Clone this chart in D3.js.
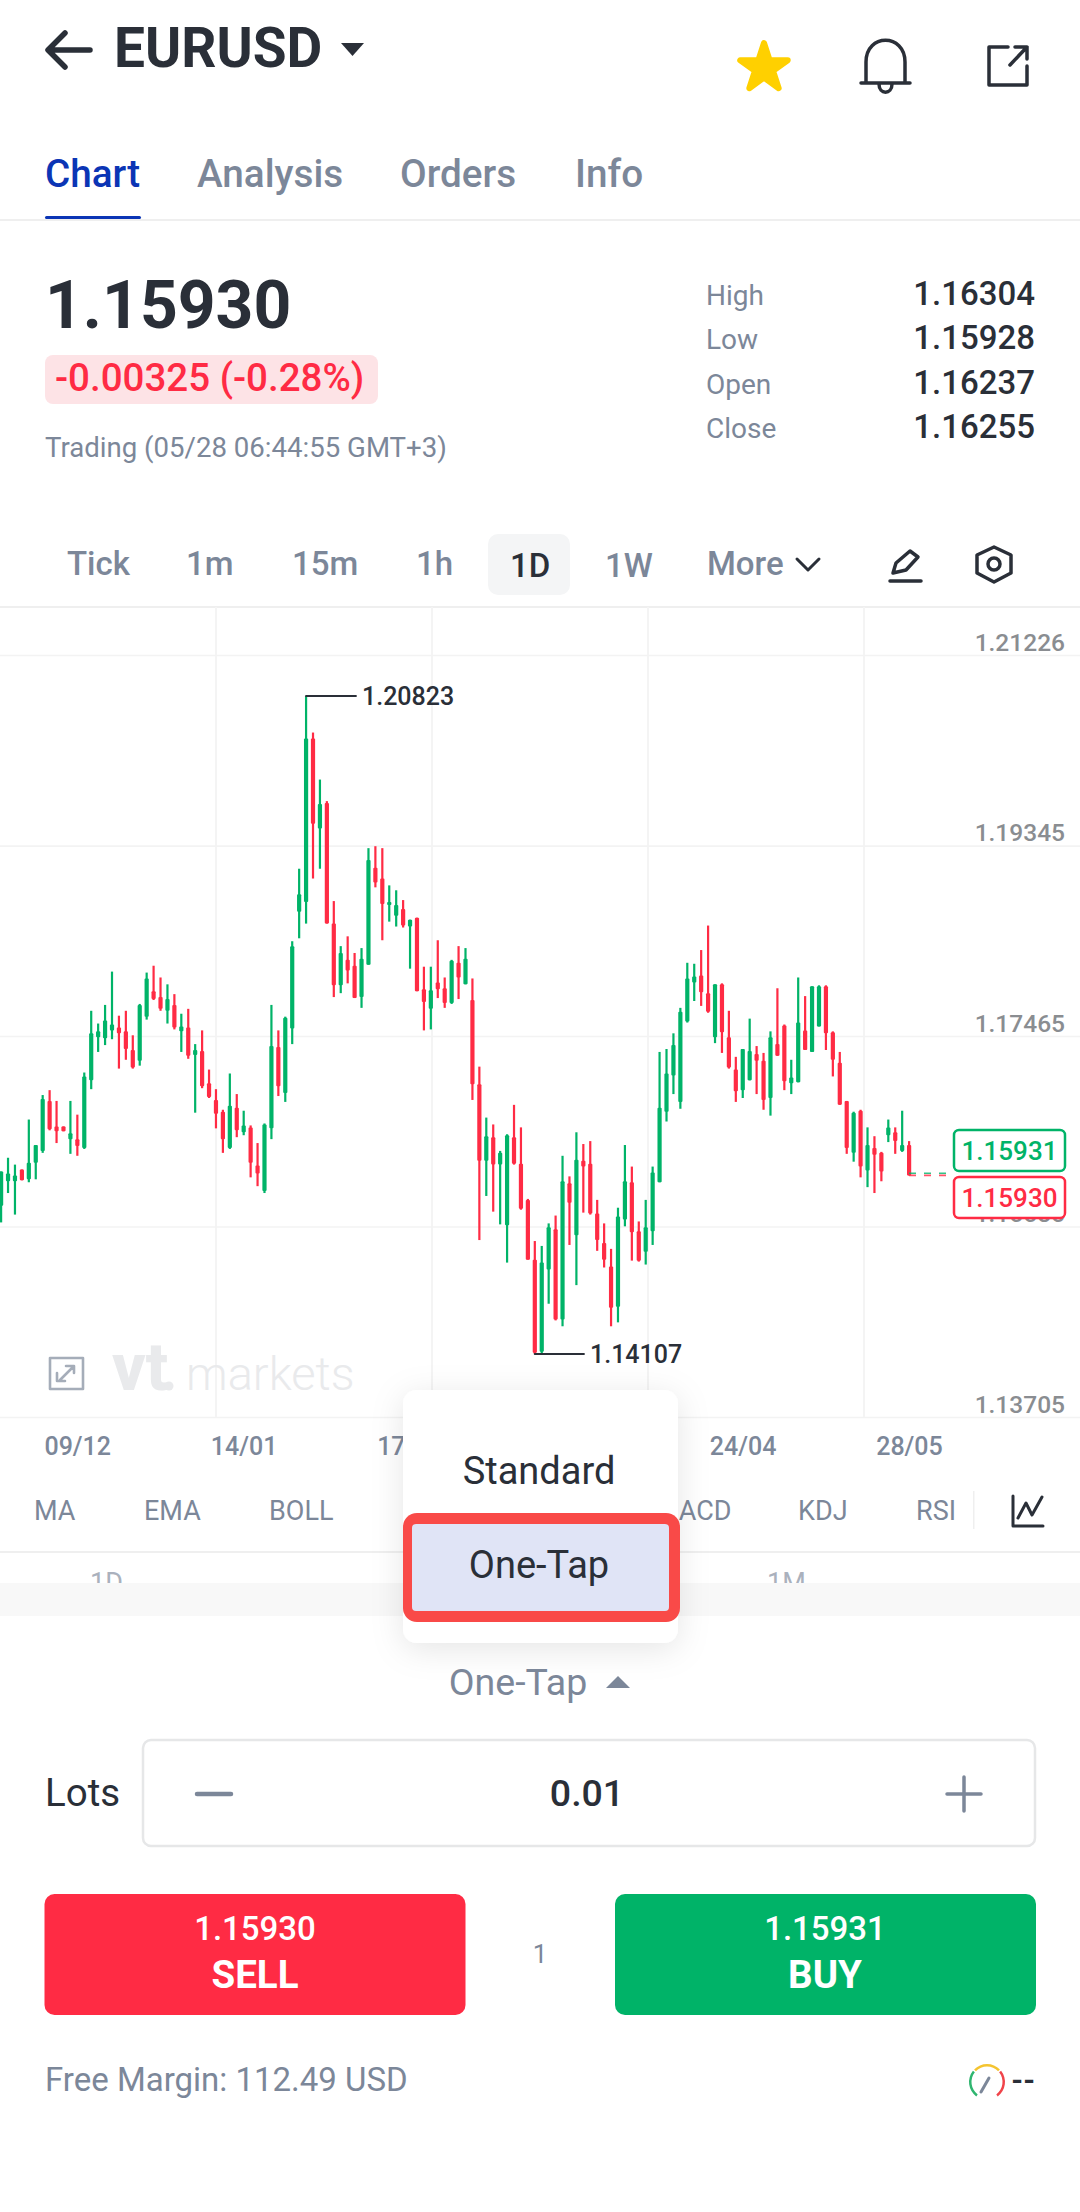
<!DOCTYPE html>
<html>
<head>
<meta charset="utf-8">
<style>
html, body { margin: 0; padding: 0; background: #fff; }
svg { display: block; }
text { font-family: Roboto, sans-serif; }
</style>
<script src="https://cdn.jsdelivr.net/npm/d3@7/dist/d3.min.js"></script>
</head>
<body>
<script>
var opens = [
  1.1562,1.1587,1.1587,1.1599,1.1589,1.1606,1.1618,1.1669,1.1643,1.1643,
  1.1630,1.1630,1.1621,1.1690,1.1734,1.1733,1.1741,1.1744,1.1740,1.1721,
  1.1710,1.1755,1.1781,1.1775,1.1761,1.1767,1.1740,1.1744,1.1716,1.1720,
  1.1687,1.1670,1.1658,1.1621,1.1662,1.1637,1.1642,1.1603,1.1577,1.1641,
  1.1724,1.1677,1.1743,1.1862,1.1872,1.2039,1.1947,1.1973,1.1850,1.1787,
  1.1813,1.1807,1.1775,1.1808,1.1907,1.1896,1.1869,1.1858,1.1865,1.1847,
  1.1856,1.1783,1.1763,1.1790,1.1784,1.1769,1.1810,1.1788,1.1772,1.1686,
  1.1608,1.1632,1.1604,1.1542,1.1632,1.1605,1.1568,1.1507,1.1413,1.1497,
  1.1538,1.1446,1.1585,1.1532,1.1608,1.1605,1.1554,1.1524,1.1500,1.1459,
  1.1548,1.1586,1.1536,1.1515,1.1536,1.1586,1.1658,1.1695,1.1668,1.1750,
  1.1790,1.1797,1.1779,1.1734,1.1788,1.1734,1.1701,1.1680,1.1690,1.1717,
  1.1710,1.1672,1.1727,1.1746,1.1687,1.1688,1.1741,1.1719,1.1745,1.1786,
  1.1739,1.1708,1.1669,1.1616,1.1659,1.1598,1.1621,1.1616,1.1634,1.1637,
  1.1618,1.1624
];
var closes = [
  1.1597,1.1595,1.1593,1.1588,1.1606,1.1624,1.1671,1.1640,1.1638,1.1638,
  1.1636,1.1623,1.1694,1.1738,1.1740,1.1751,1.1747,1.1738,1.1722,1.1703,
  1.1767,1.1794,1.1773,1.1763,1.1773,1.1744,1.1745,1.1715,1.1721,1.1684,
  1.1673,1.1656,1.1630,1.1664,1.1639,1.1644,1.1606,1.1595,1.1645,1.1725,
  1.1684,1.1754,1.1827,1.1880,1.2039,1.1952,1.1972,1.1850,1.1787,1.1820,
  1.1802,1.1774,1.1814,1.1915,1.1892,1.1870,1.1872,1.1869,1.1848,1.1854,
  1.1781,1.1770,1.1782,1.1783,1.1769,1.1812,1.1795,1.1814,1.1686,1.1608,
  1.1633,1.1604,1.1616,1.1634,1.1605,1.1559,1.1507,1.1412,1.1504,1.1540,
  1.1446,1.1587,1.1565,1.1609,1.1602,1.1554,1.1527,1.1507,1.1458,1.1551,
  1.1587,1.1535,1.1506,1.1540,1.1596,1.1662,1.1697,1.1726,1.1760,1.1794,
  1.1796,1.1780,1.1760,1.1788,1.1739,1.1703,1.1679,1.1722,1.1720,1.1710,
  1.1670,1.1734,1.1715,1.1689,1.1693,1.1749,1.1721,1.1786,1.1786,1.1738,
  1.1711,1.1665,1.1621,1.1657,1.1602,1.1624,1.1614,1.1597,1.1642,1.1628,
  1.1624,1.1593
];
var highs = [
  1.1597,1.1611,1.1604,1.1599,1.1650,1.1624,1.1675,1.1680,1.1669,1.1643,
  1.1669,1.1655,1.1698,1.1761,1.1748,1.1767,1.1801,1.1756,1.1761,1.1736,
  1.1768,1.1800,1.1807,1.1795,1.1788,1.1778,1.1758,1.1763,1.1727,1.1741,
  1.1701,1.1681,1.1660,1.1697,1.1676,1.1659,1.1644,1.1626,1.1646,1.1767,
  1.1741,1.1755,1.1832,1.1906,1.20823,1.2045,1.1997,1.1975,1.1873,1.1827,
  1.1837,1.1820,1.1825,1.1927,1.1929,1.1927,1.1889,1.1884,1.1874,1.1854,
  1.1856,1.1806,1.1806,1.1833,1.1795,1.1813,1.1827,1.1825,1.1794,1.1704,
  1.1652,1.1645,1.1618,1.1635,1.1665,1.1642,1.1569,1.1526,1.1521,1.1544,
  1.1552,1.1613,1.1592,1.1637,1.1625,1.1628,1.1568,1.1544,1.1518,1.1560,
  1.1624,1.1602,1.1546,1.1568,1.1602,1.1719,1.1722,1.1738,1.1764,1.1810,
  1.1809,1.1823,1.1848,1.1788,1.1789,1.1761,1.1714,1.1722,1.1753,1.1725,
  1.1718,1.1740,1.1784,1.1747,1.1711,1.1795,1.1776,1.1786,1.1787,1.1787,
  1.1740,1.1719,1.1669,1.1658,1.1660,1.1642,1.1633,1.1617,1.1650,1.1642,
  1.1659,1.1628
];
var lows = [
  1.1545,1.1575,1.1553,1.1588,1.1586,1.1589,1.1616,1.1639,1.1626,1.1638,
  1.1615,1.1613,1.1620,1.1681,1.1719,1.1726,1.1732,1.1702,1.1711,1.1702,
  1.1705,1.1752,1.1772,1.1761,1.1748,1.1742,1.1719,1.1712,1.1657,1.1682,
  1.1672,1.1641,1.1616,1.1620,1.1632,1.1634,1.1591,1.1582,1.1575,1.1630,
  1.1674,1.1668,1.1727,1.1835,1.1850,1.1896,1.1906,1.1850,1.1775,1.1779,
  1.1789,1.1774,1.1764,1.1808,1.1887,1.1833,1.1852,1.1847,1.1846,1.1804,
  1.1781,1.1741,1.1742,1.1774,1.1764,1.1768,1.1773,1.1788,1.1670,1.1527,
  1.1572,1.1556,1.1543,1.1504,1.1604,1.1558,1.1507,1.14107,1.1411,1.1462,
  1.1445,1.1439,1.1522,1.1481,1.1555,1.1553,1.1516,1.1499,1.1439,1.1443,
  1.1541,1.1506,1.1505,1.1502,1.1522,1.1586,1.1648,1.1676,1.1661,1.1749,
  1.1771,1.1766,1.1759,1.1728,1.1718,1.1702,1.1668,1.1672,1.1690,1.1676,
  1.1660,1.1654,1.1715,1.1680,1.1676,1.1688,1.1721,1.1719,1.1745,1.1721,
  1.1694,1.1665,1.1615,1.1607,1.1591,1.1581,1.1575,1.1587,1.1627,1.1615,
  1.1617,1.1593
];

var priceTicks = [1.21226, 1.19345, 1.17465, 1.15585, 1.13705];
var dateIndexes = [11, 35, 59, 83, 107, 131];
var dateLabels = ["09/12", "14/01", "17/02", "21/03", "24/04", "28/05"];
var gridColumns = [1, 2, 3, 4];

var bid = 1.15930, ask = 1.15931;
var highest = 1.20823, lowest = 1.14107;
var highIndex = 44, lowIndex = 77;

var tabs = ["Chart", "Analysis", "Orders", "Info"];
var statNames = ["High", "Low", "Open", "Close"];
var statValues = ["1.16304", "1.15928", "1.16237", "1.16255"];
var periods = ["Tick", "1m", "15m", "1h", "1D", "1W", "More"];
var indicators = ["MA", "EMA", "BOLL", "MACD", "KDJ", "RSI"];

var RED = "#ff2b44", GREEN = "#00b368", DARK = "#2a2f38", GRAY = "#7c8799", LINE = "#efefef", BLUE = "#0b35b5";

var svg = d3.select("body").append("svg").attr("width", 1080).attr("height", 2212);

var filter = svg.append("defs").append("filter").attr("id", "shadow")
    .attr("x", "-30%").attr("y", "-20%").attr("width", "160%").attr("height", "140%");
filter.append("feDropShadow").attr("dx", 0).attr("dy", 6).attr("stdDeviation", 16)
    .attr("flood-color", "#000").attr("flood-opacity", 0.1);

var label = function (parent, str, x, y, size, color, weight, anchor) {
    return parent.append("text").text(str)
        .attr("x", x).attr("y", y)
        .attr("font-size", size)
        .attr("fill", color)
        .attr("font-weight", weight || 400)
        .attr("text-anchor", anchor || "start");
};

var icon = function (parent, d, color, width, fill) {
    return parent.append("path").attr("d", d)
        .attr("fill", fill || "none")
        .attr("stroke", color)
        .attr("stroke-width", width)
        .attr("stroke-linecap", "round")
        .attr("stroke-linejoin", "round");
};

// header
var header = svg.append("g");
icon(header, "M50 50H90M65 33L48 50L65 67", DARK, 5.5);
label(header, "EURUSD", 114, 67, 55, DARK, 700);
header.append("path").attr("d", "M341 43H364L352.5 56Z").attr("fill", DARK);
header.append("path")
    .attr("d", d3.symbol().type(d3.symbolStar).size(700))
    .attr("transform", "translate(764,68)")
    .attr("fill", "#ffd000").attr("stroke", "#ffd000")
    .attr("stroke-width", 6).attr("stroke-linejoin", "round");
icon(header, "M866 83V62C866 33 905 33 905 62V83M861 83H910M879 84C879 95 892 95 892 84", DARK, 3.5);
icon(header, "M1008 47H989V85H1027V66M1010 65L1027 47M1015 47H1027V59", DARK, 3.5);

// tabs
var tabX = [45, 197, 400, 575];
tabs.forEach(function (t, i) {
    label(header, t, tabX[i], 187, 38.7, i === 0 ? BLUE : GRAY, 500);
});
svg.append("rect").attr("x", 0).attr("y", 219).attr("width", 1080).attr("height", 2).attr("fill", LINE);
svg.append("rect").attr("x", 45).attr("y", 216).attr("width", 96).attr("height", 3).attr("rx", 1.5).attr("fill", BLUE);

// quote block
var quote = svg.append("g");
label(quote, "1.15930", 45, 328, 66, DARK, 700);
quote.append("rect").attr("x", 45).attr("y", 355).attr("width", 333).attr("height", 49).attr("rx", 8).attr("fill", "#fde3e6");
label(quote, "-0.00325 (-0.28%)", 55, 391, 38.5, RED, 500);
label(quote, "Trading (05/28 06:44:55 GMT+3)", 45, 457, 27.6, GRAY);
statNames.forEach(function (n, i) {
    var y = 305 + i * 44.3;
    label(quote, n, 706, y, 28, GRAY);
    label(quote, statValues[i], 1035, y, 33, DARK, 500, "end");
});

// period row
var periodBar = svg.append("g");
periodBar.append("rect").attr("x", 488).attr("y", 534).attr("width", 82).attr("height", 61).attr("rx", 10).attr("fill", "#f4f5f6");
var periodX = [67, 186, 292, 416, 510, 605, 707];
periods.forEach(function (p, i) {
    label(periodBar, p, periodX[i], i === 4 || i === 5 ? 577 : 575, 33, i === 4 ? DARK : GRAY, 500);
});
icon(periodBar, "M797 559L808 570L819 559", DARK, 3);
icon(periodBar, "M893 573L896 563L910 551L918 557L906 570L893 573M890 581H921", DARK, 3.5);
icon(periodBar, "M994 547L1011 555V573L994 582L977 573V555Z", DARK, 3.5);
periodBar.append("circle").attr("cx", 994).attr("cy", 564).attr("r", 6).attr("fill", "none").attr("stroke", DARK).attr("stroke-width", 3.5);

// chart
var x = d3.scalePoint().domain(d3.range(opens.length)).range([1, 909]);
var y = d3.scaleLinear().domain([lowest, highest]).range([1354, 696]);
var gridY = d3.scaleLinear().domain([priceTicks[0], priceTicks[4]]).range([655, 1417]);
var gridX = d3.scaleLinear().domain([0, 5]).range([0, 1080]);

var chart = svg.append("g");
chart.append("rect").attr("x", 0).attr("y", 606).attr("width", 1080).attr("height", 2).attr("fill", LINE);

chart.append("g").selectAll("line").data(gridColumns).enter().append("line")
    .attr("x1", function (d) { return gridX(d); })
    .attr("x2", function (d) { return gridX(d); })
    .attr("y1", 607).attr("y2", 1417)
    .attr("stroke", "#f4f4f4").attr("stroke-width", 2);

var priceAxis = chart.append("g").attr("transform", "translate(1080,0)")
    .call(d3.axisLeft(gridY).tickValues(priceTicks).tickSize(1080).tickFormat(d3.format(".5f")));
priceAxis.select(".domain").remove();
priceAxis.selectAll("line").attr("stroke", "#f3f3f3").attr("stroke-width", 1.6);
priceAxis.selectAll("text")
    .attr("x", -15).attr("y", -5).attr("dy", 0)
    .attr("text-anchor", "end")
    .attr("font-size", 24.5)
    .attr("font-family", "Roboto, sans-serif")
    .attr("font-weight", 500)
    .attr("fill", "#8a8d91");

var candleColor = function (i) { return closes[i] >= opens[i] ? GREEN : RED; };
var candles = chart.append("g").selectAll("g").data(d3.range(opens.length)).enter().append("g");
candles.append("rect")
    .attr("x", function (i) { return x(i) - 1; })
    .attr("y", function (i) { return y(highs[i]); })
    .attr("width", 2.2)
    .attr("height", function (i) { return y(lows[i]) - y(highs[i]); })
    .attr("fill", candleColor);
candles.append("rect")
    .attr("x", function (i) { return x(i) - 2; })
    .attr("y", function (i) { return y(Math.max(opens[i], closes[i])); })
    .attr("width", 4.2)
    .attr("height", function (i) { return Math.max(2, Math.abs(y(opens[i]) - y(closes[i]))); })
    .attr("rx", 1)
    .attr("fill", candleColor);

// high / low markers
var marks = chart.append("g");
icon(marks, "M" + x(highIndex) + " " + y(highest) + "H356", DARK, 1.8);
label(marks, d3.format(".5f")(highest), 362, y(highest) + 9, 25, DARK, 500);
icon(marks, "M" + x(lowIndex) + " " + y(lowest) + "H584", DARK, 1.8);
label(marks, d3.format(".5f")(lowest), 590, y(lowest) + 9, 25, DARK, 500);

// current bid and ask
[[ask, GREEN, 1130], [bid, RED, 1177]].forEach(function (q, i) {
    marks.append("line")
        .attr("x1", x(opens.length - 1)).attr("x2", 953)
        .attr("y1", y(q[0]) - 2 + i * 2).attr("y2", y(q[0]) - 2 + i * 2)
        .attr("stroke", q[1]).attr("stroke-width", 1.6)
        .attr("stroke-dasharray", "7 8").attr("opacity", 0.8);
    marks.append("rect").attr("x", 954).attr("y", q[2]).attr("width", 111).attr("height", 41)
        .attr("rx", 5).attr("fill", "#fff").attr("stroke", q[1]).attr("stroke-width", 2.5);
    label(marks, d3.format(".5f")(q[0]), 1009.5, q[2] + 30, 26, q[1], 500, "middle");
});

// watermark and expand button
var water = chart.append("g");
label(water, "vt", 112, 1390, 66, "#e9eaec", 800);
water.append("circle").attr("cx", 169).attr("cy", 1386).attr("r", 4.5).attr("fill", "#e9eaec");
label(water, "markets", 186, 1390, 47, "#e9eaec", 300);
icon(water, "M50 1358H83V1389H50ZM60 1380L73 1367M66 1366H74V1373M57 1373V1381H65", "#a5adb9", 2.6);

// date axis
var dateAxis = svg.append("g").attr("transform", "translate(0,1417)")
    .call(d3.axisBottom(x).tickValues(dateIndexes).tickSize(0)
        .tickFormat(function (d) { return dateLabels[dateIndexes.indexOf(d)]; }));
dateAxis.select(".domain").remove();
dateAxis.selectAll("text")
    .attr("y", 38).attr("dy", 0)
    .attr("font-size", 25)
    .attr("font-family", "Roboto, sans-serif")
    .attr("font-weight", 500)
    .attr("fill", GRAY);

// indicators row
var indicatorBar = svg.append("g");
var indicatorX = [34, 144, 269, 655, 798, 916];
indicators.forEach(function (n, i) {
    label(indicatorBar, n, indicatorX[i], 1520, 27, GRAY);
});
indicatorBar.append("rect").attr("x", 973).attr("y", 1491).attr("width", 1.5).attr("height", 38).attr("fill", LINE);
icon(indicatorBar, "M1013 1496V1526H1043M1018 1518L1026 1503L1032 1515L1042 1497", DARK, 3);
svg.append("rect").attr("x", 0).attr("y", 1551).attr("width", 1080).attr("height", 2).attr("fill", LINE);
label(svg, "1D", 90, 1592, 27, "#aab1bd");
label(svg, "1M", 767, 1592, 27, "#aab1bd");
svg.append("rect").attr("x", 0).attr("y", 1583).attr("width", 1080).attr("height", 33).attr("fill", "#f8f8f8");
svg.append("rect").attr("x", 0).attr("y", 1616).attr("width", 1080).attr("height", 280).attr("fill", "#fff");

// order type menu
var menu = svg.append("g");
menu.append("rect").attr("x", 403).attr("y", 1390).attr("width", 275).attr("height", 253).attr("rx", 14)
    .attr("fill", "#fff").attr("filter", "url(#shadow)");
label(menu, "Standard", 539, 1484, 38, DARK, 400, "middle");
menu.append("rect").attr("x", 403).attr("y", 1513).attr("width", 277).attr("height", 109).attr("rx", 14).attr("fill", "#f94a48");
menu.append("rect").attr("x", 412).attr("y", 1524).attr("width", 257).attr("height", 87).attr("rx", 4).attr("fill", "#e0e4f6");
label(menu, "One-Tap", 539, 1578, 38, DARK, 400, "middle");

// order form
var form = svg.append("g");
label(form, "One-Tap", 518, 1695, 37.5, GRAY, 400, "middle");
form.append("path").attr("d", "M606 1688L618 1676L630 1688Z").attr("fill", GRAY);
label(form, "Lots", 45, 1806, 38.5, DARK);
form.append("rect").attr("x", 143).attr("y", 1740).attr("width", 892).attr("height", 106).attr("rx", 8)
    .attr("fill", "#fff").attr("stroke", "#e6e7e8").attr("stroke-width", 2.5);
icon(form, "M197 1794H231", GRAY, 4.5);
label(form, "0.01", 587, 1806, 37.5, DARK, 500, "middle");
icon(form, "M947 1794H981M964 1777V1811", GRAY, 3.5);

form.append("rect").attr("x", 44.5).attr("y", 1894).attr("width", 421).attr("height", 121).attr("rx", 10).attr("fill", RED);
form.append("rect").attr("x", 615).attr("y", 1894).attr("width", 421).attr("height", 121).attr("rx", 10).attr("fill", GREEN);
label(form, d3.format(".5f")(bid), 255, 1940, 33, "#fff", 500, "middle");
label(form, "SELL", 255, 1988, 38.5, "#fff", 700, "middle");
label(form, d3.format(".5f")(ask), 825, 1940, 33, "#fff", 500, "middle");
label(form, "BUY", 825, 1988, 38.5, "#fff", 700, "middle");
label(form, "1", 540, 1963, 26, GRAY, 400, "middle");

label(form, "Free Margin: 112.49 USD", 45, 2091, 33, GRAY);
var arc = d3.arc().innerRadius(15.5).outerRadius(18);
[["#2fb56f", -2.5, -0.9], ["#f4c430", -0.8, 0.8], ["#f0444a", 0.9, 2.5]].forEach(function (a) {
    form.append("path").attr("d", arc({ startAngle: a[1], endAngle: a[2] }))
        .attr("transform", "translate(987,2082)").attr("fill", a[0]);
});
icon(form, "M981 2092L989 2078", GRAY, 3);
label(form, "--", 1035, 2090, 30, DARK, 700, "end");
</script>
</body>
</html>
